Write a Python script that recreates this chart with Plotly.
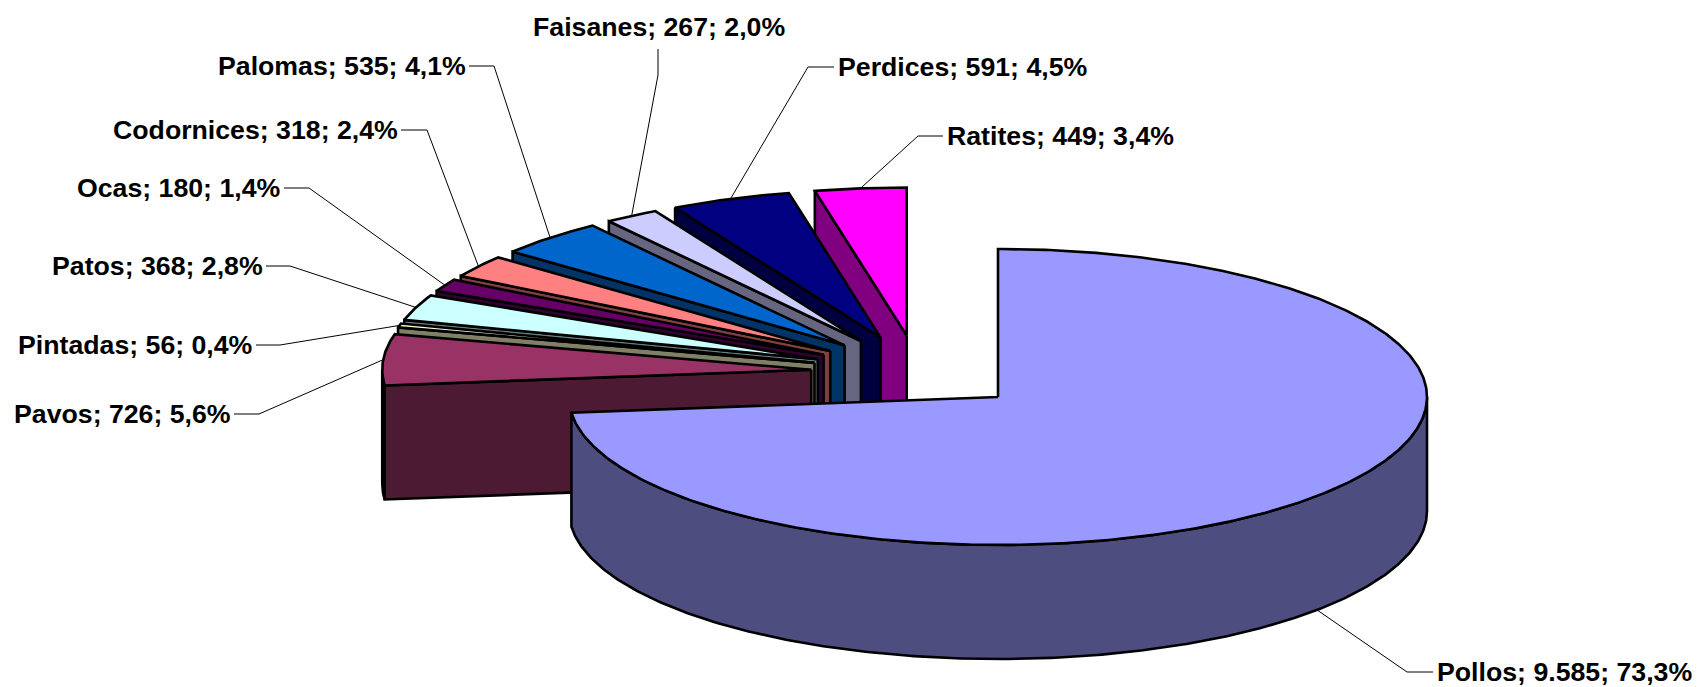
import numpy as np
import plotly.graph_objects as go

# ---- data -------------------------------------------------------------
categories = ["Pollos", "Pavos", "Pintadas", "Patos", "Ocas", "Codornices",
              "Palomas", "Faisanes", "Perdices", "Ratites"]
values = [9585, 726, 56, 368, 180, 318, 535, 267, 591, 449]
value_labels = ["9.585", "726", "56", "368", "180", "318", "535", "267", "591", "449"]
percent_labels = ["73,3%", "5,6%", "0,4%", "2,8%", "1,4%", "2,4%", "4,1%", "2,0%", "4,5%", "3,4%"]
top_colors = ["#9999FF", "#993366", "#FFFFCC", "#CCFFFF", "#660066",
              "#FF8080", "#0066CC", "#CCCCFF", "#000080", "#FF00FF"]
wall_colors = ["#4D4D80", "#4D1A33", "#808066", "#668080", "#330033",
               "#804040", "#003366", "#666680", "#000040", "#800080"]

# label layout: text anchor x, y, side, elbow x (pixels of the page)
label_layout = {
    "Pollos": (1437, 672, "left", 1407),
    "Pavos": (231, 414, "right", 259),
    "Pintadas": (253, 345, "right", 280),
    "Patos": (263, 266, "right", 290),
    "Ocas": (281, 188, "right", 309),
    "Codornices": (398, 130, "right", 427),
    "Palomas": (466, 66, "right", 494),
    "Perdices": (838, 67, "left", 808),
    "Ratites": (947, 136, "left", 918),
}
faisanes_label = (533, 27)
faisanes_leader = ((658, 49), (658, 75))

# ---- projection --------------------------------------------------------
A, B, DEPTH, EXPLODE = 429.0, 148.0, 114.0, 0.25
POLLOS_APEX = (998.0, 397.0)
LINE = "#000000"
LW = 2.6

total = sum(values)
edges = np.concatenate([[0], np.cumsum(values)]) / total * 2 * np.pi
mids = (edges[:-1] + edges[1:]) / 2
cx = POLLOS_APEX[0] - EXPLODE * A * np.sin(mids[0])
cy = POLLOS_APEX[1] + EXPLODE * B * np.cos(mids[0])


def arc(apex, t0, t1):
    n = max(3, int(abs(t1 - t0) / 0.01))
    t = np.linspace(t0, t1, n)
    return apex[0] + A * np.sin(t), apex[1] - B * np.cos(t)


fig = go.Figure()


def poly(xs, ys, fill):
    fig.add_trace(go.Scatter(
        x=list(xs), y=list(ys), mode="lines", fill="toself", fillcolor=fill,
        line=dict(color=LINE, width=LW, shape="linear"),
        hoverinfo="skip", showlegend=False))


def edge_wall(apex, t, fill):
    ex, ey = apex[0] + A * np.sin(t), apex[1] - B * np.cos(t)
    poly([apex[0], ex, ex, apex[0], apex[0]],
         [apex[1], ey, ey + DEPTH, apex[1] + DEPTH, apex[1]], fill)


apexes = [(cx + EXPLODE * A * np.sin(m), cy - EXPLODE * B * np.cos(m)) for m in mids]

# painter's order: from the back slice round to the front one
for i in list(range(len(values) - 1, -1, -1)):
    t0, t1 = edges[i], edges[i + 1]
    apex = apexes[i]
    if np.sin(t0) < 0:
        edge_wall(apex, t0, wall_colors[i])
    if np.sin(t1) > 0:
        edge_wall(apex, t1, wall_colors[i])
    lo, hi = max(t0, np.pi / 2), min(t1, 3 * np.pi / 2)
    if hi > lo:
        ax, ay = arc(apex, lo, hi)
        poly(np.concatenate([ax, ax[::-1], ax[:1]]),
             np.concatenate([ay, ay[::-1] + DEPTH, ay[:1]]), wall_colors[i])
    ax, ay = arc(apex, t0, t1)
    poly(np.concatenate([[apex[0]], ax, [apex[0]]]),
         np.concatenate([[apex[1]], ay, [apex[1]]]), top_colors[i])

# ---- labels and leader lines -------------------------------------------
FONT = dict(family="Liberation Sans, Arial, sans-serif", size=26.7, color="#000000")
for i, name in enumerate(categories):
    text = f"<b>{name}; {value_labels[i]}; {percent_labels[i]}</b>"
    apex = apexes[i]
    m = mids[i]
    ex = apex[0] + A * np.sin(m)
    ey = apex[1] - B * np.cos(m) + (DEPTH if np.cos(m) < 0 else 0)
    if name == "Faisanes":
        x, y = faisanes_label
        (sx, sy), (kx, ky) = faisanes_leader
        anchor = "left"
    else:
        x, y, anchor, kx = label_layout[name]
        sx = x + (3 if anchor == "right" else -4)
        sy = ky = y
    fig.add_trace(go.Scatter(x=[sx, kx, ex], y=[sy, ky, ey], mode="lines",
                             line=dict(color="#000000", width=1),
                             hoverinfo="skip", showlegend=False))
    fig.add_annotation(x=x, y=y, xref="x", yref="y", text=text, showarrow=False,
                       xanchor=anchor, yanchor="middle", font=FONT, borderpad=0,
                       borderwidth=0)

fig.update_layout(
    width=1699, height=687, margin=dict(l=0, r=0, t=0, b=0),
    paper_bgcolor="#FFFFFF", plot_bgcolor="#FFFFFF", showlegend=False,
    xaxis=dict(range=[0, 1699], visible=False, fixedrange=True),
    yaxis=dict(range=[687, 0], visible=False, fixedrange=True),
)
fig.write_html("out.html", config={"displayModeBar": False},
               post_script="document.body.style.margin='0';document.documentElement.style.overflow='hidden';")
